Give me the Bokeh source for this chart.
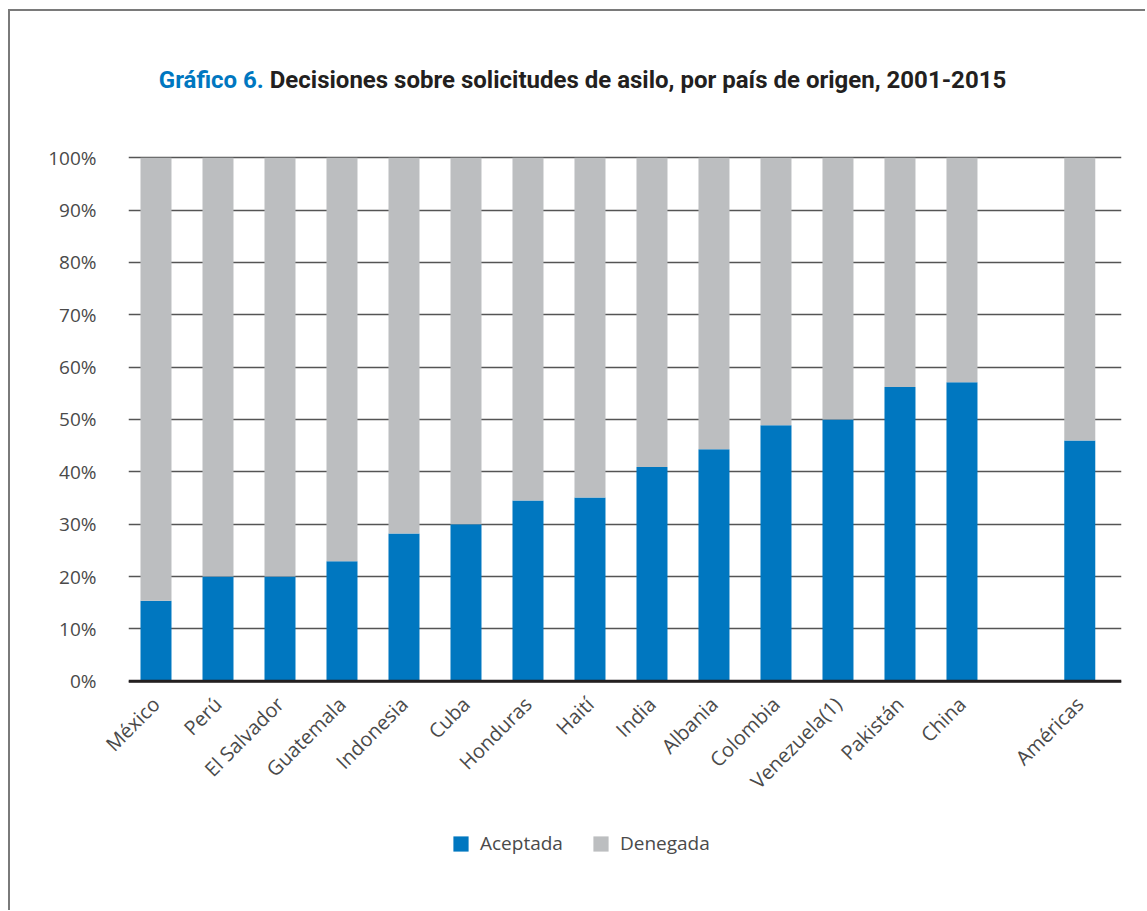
import math
from bokeh.plotting import figure
from bokeh.layouts import column
from bokeh.models import (ColumnDataSource, Range1d, FixedTicker, PrintfTickFormatter,
                          CustomJSTickFormatter, Span, Legend, LegendItem, Div)
from bokeh.embed import file_html
from bokeh.resources import INLINE

# ---- data ----
countries = ["México", "Perú", "El Salvador", "Guatemala", "Indonesia", "Cuba",
             "Honduras", "Haití", "India", "Albania", "Colombia", "Venezuela(1)",
             "Pakistán", "China", "Américas"]
aceptada = [15.4, 20.0, 20.0, 22.9, 28.2, 30.0, 34.5, 35.1, 40.9, 44.3, 48.9, 50.0, 56.2, 57.1, 46.0]
denegada = [84.6, 80.0, 80.0, 77.1, 71.8, 70.0, 65.5, 64.9, 59.1, 55.7, 51.1, 50.0, 43.8, 42.9, 54.0]
series_names = ["Aceptada", "Denegada"]
y_ticks = [0, 10, 20, 30, 40, 50, 60, 70, 80, 90, 100]
title_lead = "Gráfico 6."
title_rest = "Decisiones sobre solicitudes de asilo, por país de origen, 2001-2015"

# ---- styling ----
BLUE = "#0077c0"
GRAY = "#bcbec0"
TXT = "#4a4a4a"
FONT = "Open Sans"
colors = [BLUE, GRAY]

# category positions: the aggregate (last) bar is set apart by an extra gap
positions = [float(i) for i in range(len(countries) - 1)]
positions.append(positions[-1] + 1.9)

src = ColumnDataSource(dict(x=positions, aceptada=aceptada, denegada=denegada,
                            name=countries))

p = figure(width=1135, height=695,
           x_range=Range1d(-0.4435, 15.573), y_range=Range1d(-1, 100.6),
           output_backend="svg", toolbar_location=None,
           min_border_left=118, min_border_right=24,
           min_border_top=33, min_border_bottom=130)
p.outline_line_color = None
p.background_fill_color = "white"
p.border_fill_color = "white"

renderers = p.vbar_stack(["aceptada", "denegada"], x="x", width=0.5,
                         color=colors, line_color=None, source=src)

# grid
p.xgrid.visible = False
p.ygrid.ticker = FixedTicker(ticks=y_ticks)
p.ygrid.grid_line_color = "#555555"
p.ygrid.grid_line_width = 1.4

# zero line
p.add_layout(Span(location=0, dimension="width", line_color="#231f20",
                  line_width=3, level="overlay"))

# y axis
p.yaxis.ticker = FixedTicker(ticks=y_ticks)
p.yaxis.formatter = PrintfTickFormatter(format="%d%%")
p.yaxis.axis_line_color = None
p.yaxis.major_tick_line_color = None
p.yaxis.minor_tick_line_color = None
p.yaxis.major_label_standoff = 26
p.yaxis.major_label_text_font = FONT
p.yaxis.major_label_text_font_size = "19px"
p.yaxis.major_label_text_color = TXT

# x axis
p.xaxis.ticker = FixedTicker(ticks=positions)
p.xaxis.formatter = CustomJSTickFormatter(args=dict(pos=positions, names=countries), code="""
let best = 0;
for (let i = 0; i < pos.length; i++) {
  if (Math.abs(pos[i] - tick) < Math.abs(pos[best] - tick)) best = i;
}
return names[best];
""")
p.xaxis.major_label_orientation = math.pi / 4
p.xaxis.axis_line_color = None
p.xaxis.major_tick_line_color = None
p.xaxis.minor_tick_line_color = None
p.xaxis.major_label_standoff = 8
p.xaxis.major_label_text_font = FONT
p.xaxis.major_label_text_font_size = "20px"
p.xaxis.major_label_text_color = TXT

# legend strip: a small figure holding the legend (its own bar renderers are hidden)
lg = figure(width=1135, height=94, x_range=Range1d(0, 1), y_range=Range1d(0, 100),
            output_backend="svg", toolbar_location=None,
            min_border_left=118, min_border_right=24, min_border_top=0, min_border_bottom=0)
lg.axis.visible = False
lg.grid.visible = False
lg.outline_line_color = None
swatches = lg.vbar_stack(["aceptada", "denegada"], x="x", width=0.5,
                         color=colors, line_color=None, source=src)
for r in swatches:
    r.visible = False
legend = Legend(items=[LegendItem(label=series_names[i], renderers=[swatches[i]])
                       for i in range(2)],
                location=(323, 54), orientation="horizontal",
                glyph_width=19, glyph_height=19, label_standoff=10, spacing=28,
                padding=0, margin=0, border_line_color=None,
                background_fill_alpha=0, inactive_fill_alpha=0,
                label_text_font=FONT, label_text_font_size="19px",
                label_text_color=TXT)
lg.add_layout(legend, "center")

# title (two colours) as HTML
title_div = Div(
    text=(f'<span style="color:{BLUE}">{title_lead}</span> '
          f'<span style="color:#231f20">{title_rest}</span>'),
    width=1135, height=110, margin=0,
    styles={"font-family": "Roboto", "font-weight": "bold", "font-size": "24px",
            "line-height": "28px", "text-align": "center", "padding-top": "55px",
            "padding-left": "10px", "box-sizing": "border-box"})

root = column(title_div, p, lg, spacing=0,
              styles={"margin-left": "8px", "margin-top": "9px",
                      "border-left": "2px solid #7a7a7a",
                      "border-top": "2px solid #7a7a7a"})

open("out.html", "w").write(file_html(root, INLINE))
